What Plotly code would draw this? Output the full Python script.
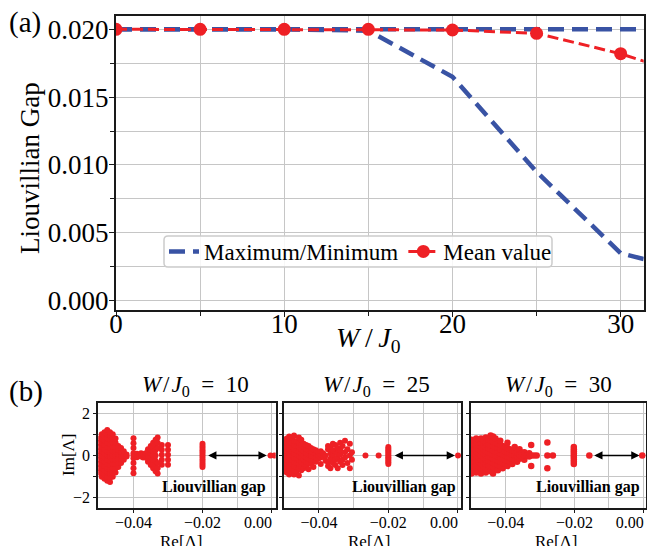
import plotly.graph_objects as go

# ---------------- data : panel (a) ----------------
W = [0, 5, 10, 15, 20, 25, 30, 35]
gap_max = [0.0200, 0.0200, 0.0200, 0.0200, 0.0200, 0.0200, 0.0200, 0.0200]
gap_min = [0.0200, 0.0200, 0.0200, 0.0199, 0.0165, 0.0095, 0.0035, 0.0019]
gap_mean = [0.0200, 0.0200, 0.0200, 0.0200, 0.01995, 0.0197, 0.0182, 0.0162]

# ---------------- data : panel (b), eigenvalue columns (Re, list of Im) -------------
re10 = [-0.0500, -0.0492, -0.0484, -0.0476, -0.0468, -0.0460, -0.0452, -0.0444, -0.0436,
        -0.0428, -0.0420, -0.0400, -0.0390, -0.0384, -0.0378, -0.0372, -0.0365, -0.0358,
        -0.0350, -0.0343, -0.0336, -0.0330, -0.0318, -0.0300, -0.0200, -0.0003, 0.0008]
im10 = [[-0.8, -0.6, -0.4, -0.2, 0, 0.2, 0.4, 0.6, 0.8],
        [-1.0, -0.8, -0.6, -0.4, -0.2, 0, 0.2, 0.4, 0.6, 0.8, 1.0],
        [-1.1, -0.9, -0.7, -0.5, -0.3, -0.1, 0.1, 0.3, 0.5, 0.7, 0.9, 1.1],
        [-1.2, -1.0, -0.8, -0.6, -0.4, -0.2, 0, 0.2, 0.4, 0.6, 0.8, 1.0, 1.2],
        [-1.25, -1.05, -0.85, -0.65, -0.45, -0.25, -0.05, 0.15, 0.35, 0.55, 0.75, 0.95, 1.1],
        [-1.0, -0.8, -0.6, -0.4, -0.2, 0, 0.2, 0.4, 0.6, 0.8, 1.0],
        [-0.8, -0.6, -0.4, -0.2, 0, 0.2, 0.4, 0.6, 0.8],
        [-0.55, -0.35, -0.15, 0.05, 0.25, 0.45],
        [-0.35, -0.15, 0, 0.15, 0.35],
        [-0.2, 0, 0.2],
        [-0.05, 0.05],
        [-0.84, -0.6, -0.36, -0.13, 0, 0.11, 0.35, 0.58, 0.82],
        [0.08, -0.08],
        [0],
        [0.1, -0.05],
        [-0.1, 0.05],
        [-0.1, 0, 0.1],
        [-0.3, -0.15, 0, 0.15, 0.3],
        [-0.45, -0.25, -0.05, 0.1, 0.25, 0.45],
        [-0.6, -0.4, -0.2, 0, 0.2, 0.4, 0.6],
        [-0.75, -0.5, -0.25, 0, 0.25, 0.5, 0.75],
        [-0.85, -0.6, -0.35, 0.35, 0.6, 0.85],
        [0.5, 0.27, 0.03, -0.2, -0.44],
        [0.5, 0.27, 0.03, -0.2, -0.44],
        [0.55, 0.45, 0.35, 0.25, 0.15, 0.05, -0.05, -0.15, -0.25, -0.35, -0.45, -0.55],
        [0],
        [0]]

re25 = [-0.0500, -0.0493, -0.0486, -0.0479, -0.0472, -0.0465, -0.0458, -0.0451, -0.0444,
        -0.0437, -0.0430, -0.0423, -0.0416, -0.0409, -0.0402, -0.0395, -0.0388, -0.0381,
        -0.0374, -0.0367, -0.0360, -0.0353, -0.0346, -0.0339, -0.0332, -0.0325, -0.0318,
        -0.0311, -0.0305, -0.0266, -0.0228, -0.0200, 0.0001]
im25 = [[-0.7, -0.5, -0.3, -0.1, 0.1, 0.3, 0.5, 0.7],
        [-0.8, -0.6, -0.4, -0.2, 0, 0.2, 0.4, 0.6, 0.8],
        [-0.9, -0.7, -0.5, -0.3, -0.1, 0.1, 0.3, 0.5, 0.7, 0.9],
        [-0.8, -0.6, -0.4, -0.2, 0, 0.2, 0.4, 0.6, 0.85],
        [-0.9, -0.7, -0.5, -0.3, -0.1, 0.1, 0.3, 0.5, 0.7, 0.95],
        [-0.75, -0.55, -0.35, -0.15, 0.05, 0.25, 0.45, 0.65],
        [-0.95, -0.6, -0.4, -0.2, 0, 0.2, 0.4, 0.6, 0.85],
        [-0.7, -0.5, -0.3, -0.1, 0.1, 0.3, 0.5, 0.75],
        [-0.6, -0.4, -0.2, 0, 0.2, 0.4, 0.55],
        [-0.5, -0.3, -0.1, 0.1, 0.3, 0.5],
        [-0.65, -0.35, -0.15, 0.05, 0.25, 0.45],
        [-0.4, -0.2, 0, 0.2, 0.35],
        [-0.55, -0.25, -0.05, 0.15, 0.3],
        [-0.3, -0.1, 0.1, 0.25],
        [-0.15, 0, 0.15],
        [-0.4, -0.1, 0.05, 0.2],
        [-0.05, 0.1],
        [-0.25, 0.0],
        [-0.5, -0.3, 0.3, 0.45],
        [-0.6, -0.15, 0.1, 0.4],
        [-0.35, 0, 0.25, 0.55],
        [-0.45, -0.2, 0.2, 0.5],
        [-0.6, -0.1, 0.1, 0.35],
        [-0.3, 0.05, 0.25, 0.6],
        [-0.45, -0.2, 0.45],
        [-0.1, 0.15, 0.7],
        [-0.35, 0.3],
        [-0.6, 0.0, 0.55],
        [-0.2, 0.15],
        [0],
        [0],
        [0.4, 0.32, 0.24, 0.16, 0.08, 0, -0.08, -0.16, -0.24, -0.32, -0.4],
        [0]]

re30 = [-0.0500, -0.0493, -0.0486, -0.0479, -0.0472, -0.0465, -0.0458, -0.0451, -0.0444,
        -0.0437, -0.0430, -0.0423, -0.0416, -0.0409, -0.0402, -0.0395, -0.0388, -0.0381,
        -0.0374, -0.0367, -0.0360, -0.0353, -0.0346, -0.0339, -0.0332, -0.0326, -0.0318,
        -0.0310, -0.0279, -0.0263, -0.0202, -0.0157, -0.0003]
im30 = [[-0.85, -0.6, -0.4, -0.2, 0, 0.2, 0.4, 0.6, 0.75],
        [-0.7, -0.5, -0.3, -0.1, 0.1, 0.3, 0.5, 0.7],
        [-0.8, -0.6, -0.4, -0.2, 0, 0.2, 0.4, 0.6, 0.8],
        [-0.7, -0.5, -0.3, -0.1, 0.1, 0.3, 0.5, 0.75],
        [-0.85, -0.6, -0.4, -0.2, 0, 0.2, 0.4, 0.6, 0.8],
        [-0.7, -0.5, -0.3, -0.1, 0.1, 0.3, 0.5, 0.7],
        [-0.8, -0.6, -0.4, -0.2, 0, 0.2, 0.4, 0.6, 0.85],
        [-0.65, -0.45, -0.25, -0.05, 0.15, 0.35, 0.55, 0.75],
        [-0.75, -0.5, -0.3, -0.1, 0.1, 0.3, 0.5, 0.7, 0.95],
        [-0.85, -0.55, -0.35, -0.15, 0.05, 0.25, 0.45, 0.65, 0.9],
        [-0.6, -0.4, -0.2, 0, 0.2, 0.4, 0.6, 0.8],
        [-0.7, -0.45, -0.25, -0.05, 0.15, 0.35, 0.55],
        [-0.5, -0.3, -0.1, 0.1, 0.3, 0.5, 0.7],
        [-0.6, -0.35, -0.15, 0.05, 0.25, 0.45],
        [-0.4, -0.2, 0, 0.2, 0.4],
        [-0.5, -0.25, -0.05, 0.15, 0.35, 0.6],
        [-0.3, -0.1, 0.1, 0.3],
        [-0.4, -0.15, 0.05, 0.25],
        [-0.2, 0, 0.2, 0.4],
        [-0.3, -0.05, 0.15],
        [-0.15, 0.05, 0.3],
        [-0.05, 0.1],
        [-0.2, 0, 0.15],
        [0],
        [-0.05, 0.1],
        [-0.5, 0, 0.5],
        [0],
        [0],
        [-0.6, 0, 0.62],
        [0],
        [0.4, 0.3, 0.2, 0.1, 0, -0.1, -0.2, -0.3, -0.4],
        [0],
        [0]]

panel_W = ["10", "25", "30"]
b_tickvals = [-0.04, -0.02, 0.0]
b_ticktext = ["\u22120.04", "\u22120.02", "0.00\u2003\u2002\u2009"]
gap_edges = [(-0.0188, -0.0014), (-0.0186, -0.0008), (-0.0147, -0.0011)]

RED = "#ee2025"
BLUE = "#3953a4"
GRID = "#c6c6c6"
SERIF = "Liberation Serif"


def flatten(res, ims):
    xs, ys = [], []
    for r, col in zip(res, ims):
        xs += [r] * len(col)
        ys += list(col)
    return xs, ys


fig = go.Figure()

# ---- panel (a)
fig.add_trace(go.Scatter(x=W, y=gap_max, mode="lines", name="Maximum/Minimum",
                         legendgroup="mm",
                         line=dict(color=BLUE, width=4.5, dash="16px,8px"),
                         xaxis="x", yaxis="y"))
fig.add_trace(go.Scatter(x=W, y=gap_min, mode="lines", name="Maximum/Minimum",
                         legendgroup="mm", showlegend=False,
                         line=dict(color=BLUE, width=4.5, dash="16px,8px"),
                         xaxis="x", yaxis="y"))
fig.add_trace(go.Scatter(x=W, y=gap_mean, mode="lines+markers", name="Mean value",
                         line=dict(color=RED, width=3, dash="11px,5px"),
                         marker=dict(color=RED, size=13),
                         xaxis="x", yaxis="y"))

# ---- panel (b)
for i, (res, ims) in enumerate([(re10, im10), (re25, im25), (re30, im30)]):
    xs, ys = flatten(res, ims)
    fig.add_trace(go.Scatter(x=xs, y=ys, mode="markers", showlegend=False,
                             marker=dict(color=RED, size=6 if i < 2 else 6.5),
                             xaxis=f"x{i+2}", yaxis=f"y{i+2}"))

axis_common = dict(showline=True, mirror=True, linecolor="#1a1a1a", linewidth=2,
                   showgrid=True, gridcolor=GRID, gridwidth=1.3, zeroline=False,
                   ticks="outside", tickcolor="#1a1a1a", tickwidth=1.2, automargin=False)


def px(xp, yp):
    return xp / 647.0, 1 - yp / 546.0


layout = dict(
    template="none",
    width=647, height=546, margin=dict(l=0, r=0, t=0, b=0, autoexpand=False),
    paper_bgcolor="white", plot_bgcolor="white",
    font=dict(family=SERIF, color="black"),
    showlegend=True,
    legend=dict(orientation="h", x=px(164, 0)[0], y=px(0, 251.5)[1],
                xanchor="left", yanchor="middle",
                bgcolor="rgba(0,0,0,0)", borderwidth=0,
                font=dict(family=SERIF, size=23), itemwidth=30),
    xaxis=dict(axis_common, domain=[0.1793, 0.9949], anchor="y", range=[0, 31.37],
               tick0=0, dtick=10, ticklen=5, ticklabelstandoff=-16,
               tickfont=dict(family=SERIF, size=27),
               minor=dict(dtick=5, showgrid=True, gridcolor=GRID, gridwidth=1.3,
                          ticks="outside", ticklen=4, tickcolor="#1a1a1a")),
    yaxis=dict(axis_common, domain=[0.4322, 0.9712], anchor="x", range=[-0.00069, 0.021],
               tick0=0, dtick=0.005, tickformat=".3f", ticklen=5, ticklabelstandoff=-5,
               tickfont=dict(family=SERIF, size=27),
               minor=dict(dtick=0.0025, showgrid=True, gridcolor=GRID, gridwidth=1.3,
                          ticks="outside", ticklen=4, tickcolor="#1a1a1a")),
)

b_dom = [[0.1519, 0.4261], [0.4389, 0.7125], [0.7275, 0.9985]]
b_rng = [[-0.0502, 0.0012], [-0.0501, 0.00095], [-0.0502, 0.0008]]
for i in range(3):
    n = i + 2
    layout[f"xaxis{n}"] = dict(axis_common, domain=b_dom[i], anchor=f"y{n}", range=b_rng[i],
                               tickmode="array", tickvals=b_tickvals, ticktext=b_ticktext,
                               ticklen=3, ticklabelstandoff=-5, ticklabeloverflow="allow",
                               tickfont=dict(family=SERIF, size=16),
                               minor=dict(tick0=0, dtick=0.01, showgrid=True, gridcolor=GRID,
                                          gridwidth=1.3))
    layout[f"yaxis{n}"] = dict(axis_common, domain=[0.0690, 0.2614], anchor=f"x{n}",
                               range=[-2.5, 2.47], tick0=0, dtick=2, ticklen=3,
                               showticklabels=(i == 0),
                               tickfont=dict(family=SERIF, size=16),
                               minor=dict(dtick=1, showgrid=True, gridcolor=GRID,
                                          gridwidth=1.3, ticks="outside", ticklen=3,
                                          tickcolor="#1a1a1a"))

fig.update_layout(**layout)

# legend frame (rounded box) drawn behind the legend entries
lx0, lx1, ly0, ly1, r = 164, 552, 236, 267, 4
X = lambda v: v / 647.0
Y = lambda v: 1 - v / 546.0
frame = (f"M {X(lx0 + r)},{Y(ly0)} L {X(lx1 - r)},{Y(ly0)} Q {X(lx1)},{Y(ly0)} {X(lx1)},{Y(ly0 + r)} "
         f"L {X(lx1)},{Y(ly1 - r)} Q {X(lx1)},{Y(ly1)} {X(lx1 - r)},{Y(ly1)} "
         f"L {X(lx0 + r)},{Y(ly1)} Q {X(lx0)},{Y(ly1)} {X(lx0)},{Y(ly1 - r)} "
         f"L {X(lx0)},{Y(ly0 + r)} Q {X(lx0)},{Y(ly0)} {X(lx0 + r)},{Y(ly0)} Z")
fig.add_shape(type="path", path=frame, xref="paper", yref="paper", layer="above",
              fillcolor="rgba(255,255,255,0.85)", line=dict(color="#cccccc", width=1.5))

ann = []
x0, y0 = px(25, 23)
ann.append(dict(x=x0, y=y0, text="(a)", font=dict(size=29)))
x0, y0 = px(26, 391)
ann.append(dict(x=x0, y=y0, text="(b)", font=dict(size=29)))
x0, y0 = px(30, 168)
ann.append(dict(x=x0, y=y0, text="Liouvillian Gap", textangle=-90, font=dict(size=27)))
x0, y0 = px(368, 339)
ann.append(dict(x=x0, y=y0, text="<i>W</i>\u2009/\u2009<i>J</i><sub>0</sub>", font=dict(size=28)))
title_cx = [195.5, 376.5, 558.5]
re_cx = [182, 369, 556.5]
gap_right = [268, 458, 642]
for i in range(3):
    x0, y0 = px(title_cx[i], 386)
    ann.append(dict(x=x0, y=y0,
                    text="<i>W</i>\u200a/\u200a<i>J</i><sub>0</sub>\u2002=\u2002" + panel_W[i],
                    font=dict(size=23)))
    x0, y0 = px(re_cx[i], 541)
    ann.append(dict(x=x0, y=y0, text="Re[Λ]", font=dict(size=17)))
    x0, y0 = px(gap_right[i], 487)
    ann.append(dict(x=x0, y=y0, text="<b>Liouvillian gap</b>", xanchor="right",
                    font=dict(size=16)))
x0, y0 = px(68, 455)
ann.append(dict(x=x0, y=y0, text="Im[Λ]", textangle=-90, font=dict(size=17)))

for a in ann:
    a.setdefault("xref", "paper")
    a.setdefault("yref", "paper")
    a.setdefault("showarrow", False)
    a.setdefault("xanchor", "center")
    a.setdefault("yanchor", "middle")
    a["font"] = dict(family=SERIF, color="black", **a["font"])
    fig.add_annotation(**a)

for i, (xl, xr) in enumerate(gap_edges):
    n = i + 2
    fig.add_annotation(x=xr, y=0, ax=xl, ay=0, xref=f"x{n}", yref=f"y{n}",
                       axref=f"x{n}", ayref=f"y{n}", text="", showarrow=True,
                       arrowhead=2, startarrowhead=2, arrowside="end+start",
                       arrowsize=1.1, startarrowsize=1.1, arrowwidth=1.5,
                       arrowcolor="black", standoff=0, startstandoff=0)

fig.write_html("out.html", config={"displayModeBar": False},
               post_script="document.body.style.margin='0';")
